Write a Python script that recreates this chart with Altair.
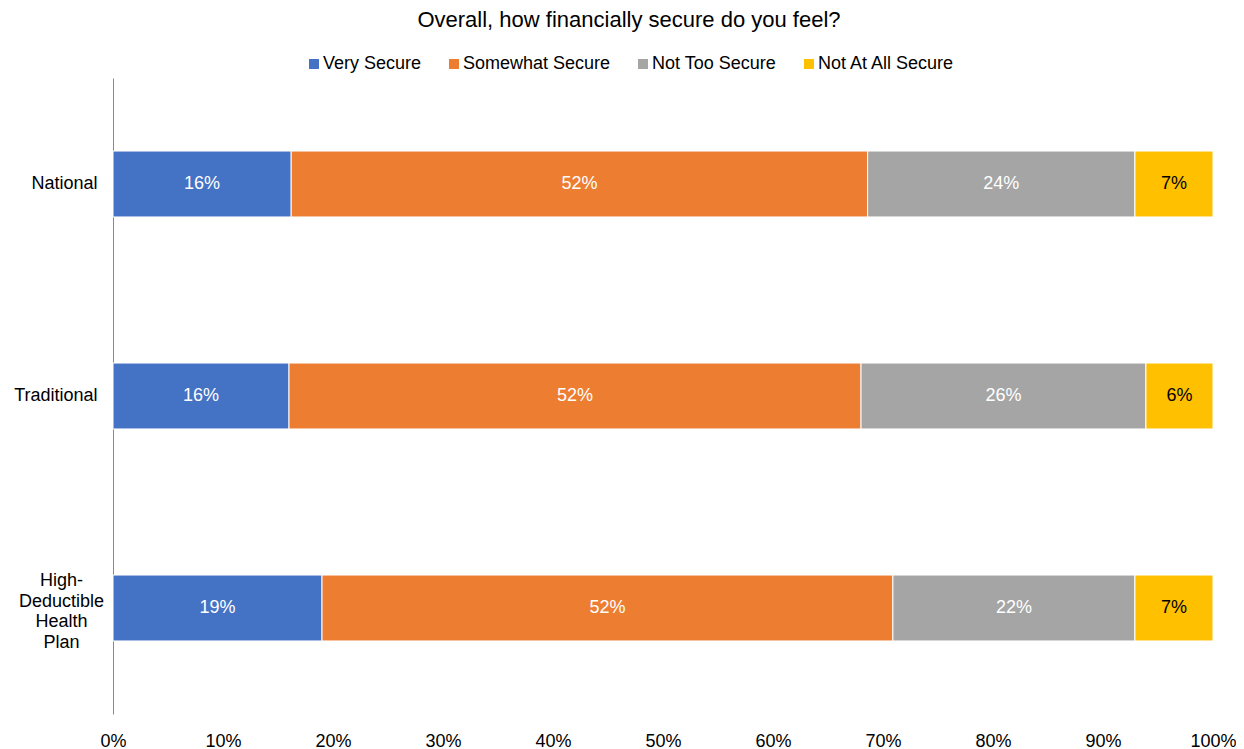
import altair as alt
import pandas as pd

groups = ["National", "Traditional", "High-Deductible Health Plan"]
categories = ["Very Secure", "Somewhat Secure", "Not Too Secure", "Not At All Secure"]
colors = ["#4472C4", "#ED7D31", "#A5A5A5", "#FFC000"]
very_secure = [16.2, 16.0, 19.0]
somewhat_secure = [52.4, 52.0, 51.9]
not_too_secure = [24.3, 25.9, 22.0]
not_at_all_secure = [7.1, 6.1, 7.1]
x_ticks = [0, 10, 20, 30, 40, 50, 60, 70, 80, 90, 100]

series = [very_secure, somewhat_secure, not_too_secure, not_at_all_secure]
rows = []
for i, g in enumerate(groups):
    for j, c in enumerate(categories):
        rows.append({"group": g, "category": c, "order": j, "value": series[j][i]})
df = pd.DataFrame(rows)

FONT = "Liberation Sans"
HDHP = "High-Deductible Health Plan"
test = "datum.value == '" + HDHP + "'"

base = alt.Chart(df).transform_stack(
    stack="value", groupby=["group"], as_=["x0", "x1"],
    sort=[alt.SortField("order", order="ascending")]
).transform_calculate(
    mid="(datum.x0 + datum.x1) / 2",
    label="round(datum.value) + '%'"
)

y_enc = alt.Y(
    "group:N", sort=groups,
    scale=alt.Scale(paddingInner=0.689, paddingOuter=0.3445),
    axis=alt.Axis(
        title=None, ticks=False, domain=True, domainColor="#8a8a8a", domainWidth=1,
        labelFont=FONT, labelFontSize=18, labelColor="#000000",
        labelExpr="datum.value == '" + HDHP + "' ? ['High-', 'Deductible', 'Health', 'Plan'] : datum.value",
        labelLineHeight=20.5,
        labelAlign={"condition": {"test": test, "value": "center"}, "value": "right"},
        labelPadding={"condition": {"test": test, "value": 52}, "value": 16},
        labelOffset={"condition": {"test": test, "value": -27}, "value": 0},
    ),
)

bars = base.mark_bar(stroke="#ffffff", strokeWidth=1).encode(
    x=alt.X(
        "x0:Q", scale=alt.Scale(domain=[0, 100], nice=False),
        axis=alt.Axis(
            values=x_ticks, labelExpr="datum.value + '%'", title=None, ticks=False,
            domain=False, grid=False, labelFont=FONT, labelFontSize=18,
            labelColor="#000000", labelPadding=18, labelFlush=False, labelOverlap=False,
        ),
    ),
    x2="x1:Q",
    y=y_enc,
    color=alt.Color(
        "category:N", sort=categories,
        scale=alt.Scale(domain=categories, range=colors),
        legend=alt.Legend(
            orient="none", legendX=192, legendY=-23, direction="horizontal",
            title=None, symbolType="square", symbolSize=100, symbolStrokeWidth=0,
            labelFont=FONT, labelFontSize=18, labelColor="#000000",
            columnPadding=23, labelOffset=0, padding=0,
        ),
    ),
)

labels = base.mark_text(font=FONT, fontSize=18, baseline="middle", align="center").encode(
    x="mid:Q",
    y=alt.Y("group:N", sort=groups),
    text="label:N",
    color=alt.condition(
        "datum.category == 'Not At All Secure'", alt.value("#000000"), alt.value("#ffffff")
    ),
)

chart = alt.layer(bars, labels).properties(
    width=1100,
    height=636,
    title=alt.TitleParams(
        text="Overall, how financially secure do you feel?",
        font=FONT, fontSize=22, fontWeight="normal", color="#000000",
        anchor="middle", dx=-34, offset=23,
    ),
    autosize=alt.AutoSizeParams(type="none"),
    padding={"left": 105, "top": 70, "right": 23, "bottom": 38},
).configure_view(stroke=None)

chart.save("out.html", embed_options={"renderer": "svg", "actions": False})
